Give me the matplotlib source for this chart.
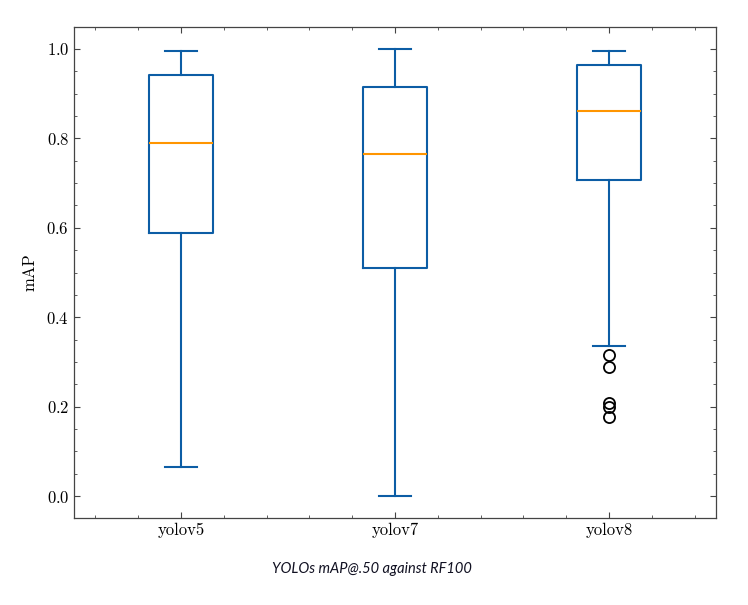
import matplotlib
matplotlib.use("Agg")
import matplotlib.pyplot as plt
from matplotlib.ticker import AutoMinorLocator, MultipleLocator

# box statistics (mAP@.50 on RF100)
models = ["yolov5", "yolov7", "yolov8"]
whisker_low = [0.065, 0.001, 0.336]
q1 = [0.588, 0.510, 0.707]
median = [0.790, 0.765, 0.861]
q3 = [0.942, 0.915, 0.964]
whisker_high = [0.995, 0.999, 0.995]
outliers = [[], [], [0.315, 0.288, 0.208, 0.199, 0.176]]

plt.rcParams["font.family"] = "serif"
plt.rcParams["font.serif"] = ["cmr10", "DejaVu Serif"]
plt.rcParams["axes.formatter.use_mathtext"] = True
plt.rcParams["mathtext.fontset"] = "cm"

stats = []
for i, name in enumerate(models):
    stats.append({
        "label": name,
        "whislo": whisker_low[i],
        "q1": q1[i],
        "med": median[i],
        "q3": q3[i],
        "whishi": whisker_high[i],
        "fliers": outliers[i],
    })

fig = plt.figure(figsize=(7.48, 6.05), dpi=100)
ax = fig.add_axes([74 / 748, 87 / 605, 642 / 748, 491 / 605])

blue = "#0C5DA5"
orange = "#FF9500"
line_kw = dict(color=blue, linewidth=1.5)
ax.bxp(
    stats,
    widths=0.3,
    boxprops=line_kw,
    whiskerprops=line_kw,
    capprops=line_kw,
    medianprops=dict(color=orange, linewidth=1.5),
    flierprops=dict(marker="o", markerfacecolor="none", markeredgecolor="black",
                    markersize=8, markeredgewidth=1.3),
)

ax.set_xlim(0.5, 3.5)
ax.set_ylim(-0.049, 1.049)
ax.set_ylabel("mAP", fontsize=12, labelpad=6)
ax.yaxis.set_major_locator(MultipleLocator(0.2))
ax.yaxis.set_minor_locator(AutoMinorLocator(4))
ax.xaxis.set_minor_locator(MultipleLocator(0.2))
ax.tick_params(which="both", direction="in", top=True, right=True,
               color="#444444", labelsize=12)
ax.tick_params(which="major", length=4, width=0.8)
ax.tick_params(which="minor", length=2.5, width=0.6)
for s in ax.spines.values():
    s.set_color("#444444")
    s.set_linewidth(0.9)

fig.text(372 / 748, 1 - 569 / 605, "YOLOs mAP@.50 against RF100",
         family=["Lato", "DejaVu Sans"], style="italic", fontsize=10.5,
         color="#111122", ha="center", va="center")

fig.savefig("out.png", dpi=100)
